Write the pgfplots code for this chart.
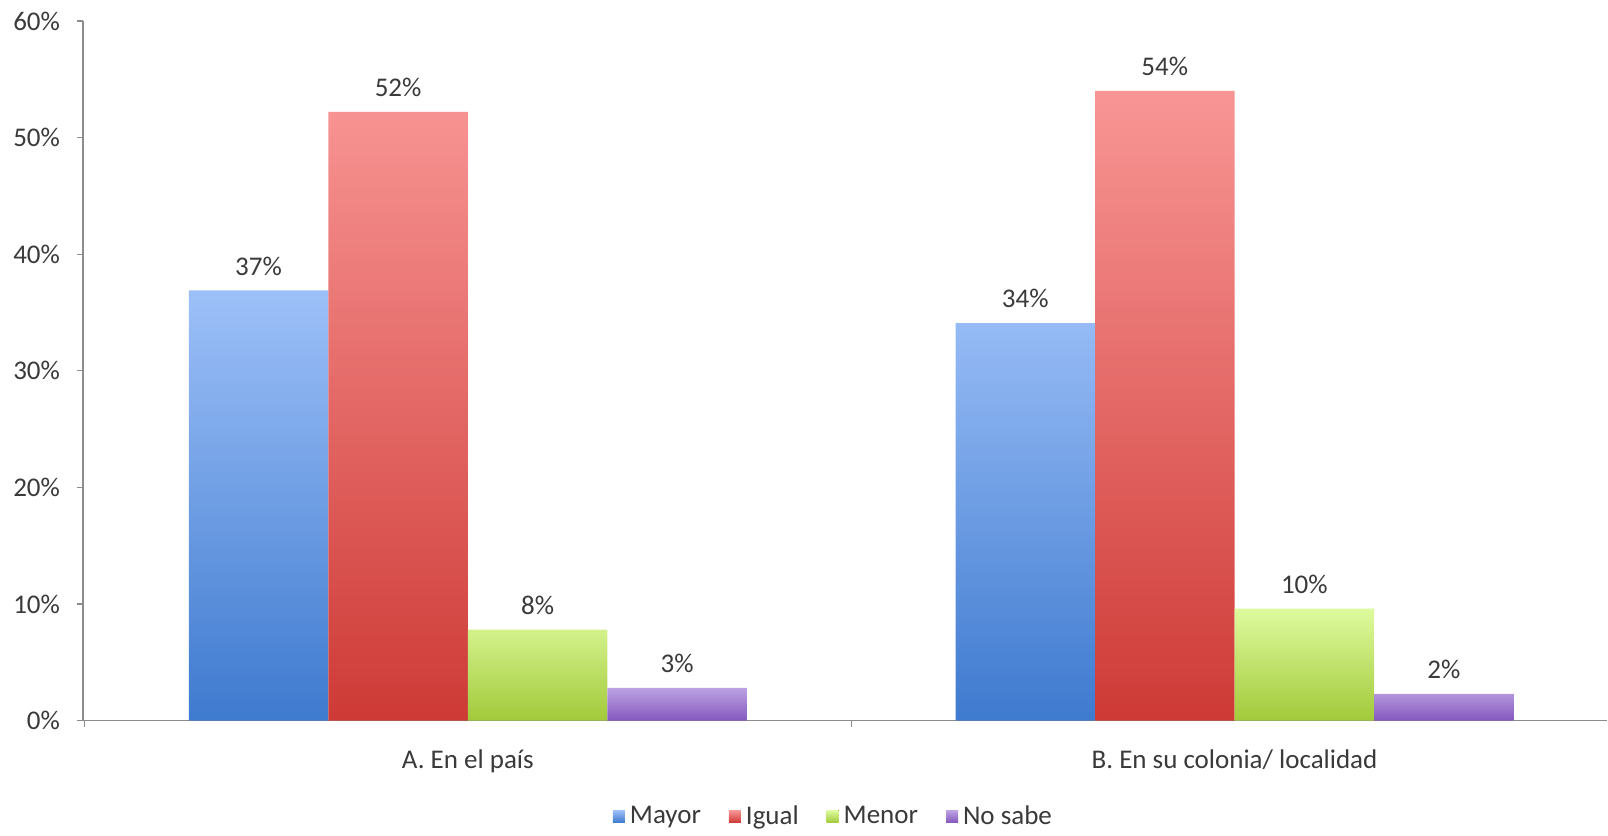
\documentclass[border=0pt]{standalone}
\usepackage{pgfplots}
\pgfplotsset{compat=1.18}
\usepackage{fontspec}
\setmainfont{Carlito}
\definecolor{txt}{HTML}{3A3A3A}
\definecolor{axc}{HTML}{8C8C8C}
\definecolor{bluT}{HTML}{9DC0F8}
\definecolor{bluB}{HTML}{3E7ACF}
\definecolor{redT}{HTML}{F89695}
\definecolor{redB}{HTML}{CE3A36}
\definecolor{grnT}{HTML}{DEFB9E}
\definecolor{grnB}{HTML}{A2C93A}
\definecolor{purT}{HTML}{BCA2E3}
\definecolor{purB}{HTML}{8558BD}
\begin{document}
\begin{tikzpicture}
\begin{axis}[
  scale only axis,
  width=762.5pt, height=350pt,
  ybar=0pt, bar width=0.182,
  xmin=-0.502, xmax=1.486,
  ymin=0, ymax=60,
  axis x line*=bottom, axis y line*=left,
  axis line style={axc, line width=0.8pt},
  xtick={0,1},
  xticklabels={A. En el país, B. En su colonia/ localidad},
  major x tick style={draw=none},
  minor xtick={-0.5,0.5},
  minor x tick style={axc, line width=0.6pt},
  minor tick length=3pt,
  ytick={0,10,...,60},
  y tick style={axc, line width=0.6pt},
  major tick length=3pt,
  tick align=outside,
  yticklabel={\pgfmathprintnumber{\tick}\%},
  /pgf/number format/assume math mode=true,
  tick label style={font=\fontsize{13.5}{16}\selectfont, text=txt},
  yticklabel style={xshift=-5pt},
  xticklabel style={yshift=-8pt},
  nodes near coords={\pgfmathprintnumber[fixed,precision=0]{\pgfplotspointmeta}\%},
  nodes near coords style={font=\fontsize{13.5}{16}\selectfont, text=txt, anchor=south, yshift=4pt},
  legend style={at={(0.493,-0.137)}, anchor=center, draw=none, legend columns=-1,
    font=\fontsize{13.5}{16}\selectfont, text=txt,
    /tikz/every odd column/.append style={column sep=0.5pt},
    /tikz/every even column/.append style={column sep=12pt}},
  legend image code/.code={\fill[#1] (0pt,-3pt) rectangle (6pt,3pt);},
]
\addplot[draw=none, top color=bluT, bottom color=bluB] coordinates {(0,36.9) (1,34.1)};
\addplot[draw=none, top color=redT, bottom color=redB] coordinates {(0,52.2) (1,54.0)};
\addplot[draw=none, top color=grnT, bottom color=grnB] coordinates {(0,7.8) (1,9.6)};
\addplot[draw=none, top color=purT, bottom color=purB] coordinates {(0,2.8) (1,2.3)};
\legend{Mayor, Igual, Menor, No sabe}
\end{axis}
\path (current axis.south west) ++(-41.5pt,-56pt) rectangle ++(804pt,416.5pt);
\end{tikzpicture}
\end{document}
